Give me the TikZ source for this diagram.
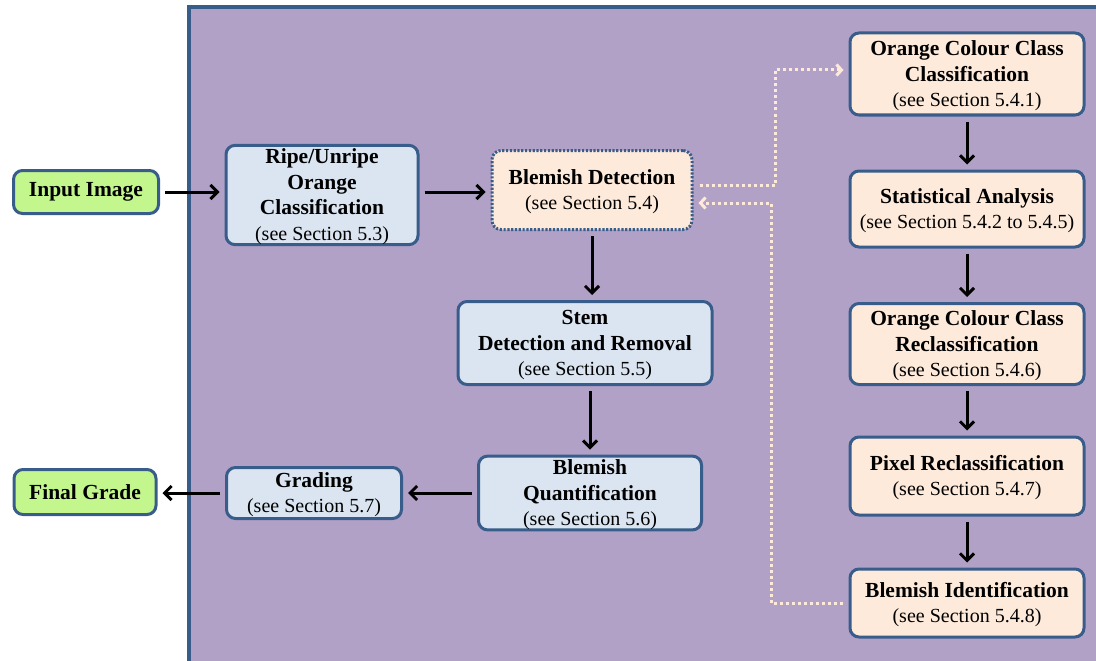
\documentclass[tikz,border=0pt]{standalone}
\usepackage{fontspec}
\setmainfont{Liberation Serif}
\usepackage{tikz}
\usetikzlibrary{calc}
\usetikzlibrary{arrows.meta}
\definecolor{panel}{HTML}{B2A1C7}
\definecolor{edge}{HTML}{385D8A}
\definecolor{lblue}{HTML}{DBE5F1}
\definecolor{peach}{HTML}{FDEADA}
\definecolor{lgreen}{HTML}{C4F68E}
\newcommand{\seesec} [1] {{\fontsize{20}{24}\selectfont\mdseries (see Section #1)}}
\newcommand{\topgap} {\rule{0pt}{18.5pt}}
\tikzset{G/.style={rounded corners=9pt,draw=edge,line width=3pt,fill=lgreen,align=center,inner xsep=1pt,inner ysep=0pt,font=\fontsize{21.5}{25.5}\selectfont\bfseries}}
\tikzset{B/.style={G,fill=lblue}}
\tikzset{P/.style={B,fill=peach}}
\tikzset{A/.style={line width=3pt,-{Straight Barb[length=7pt,width=14pt]},shorten <=5pt,shorten >=5pt}}
\tikzset{D/.style={draw=peach,line width=3pt,dash pattern=on 3pt off 3pt,-{Straight Barb[length=5pt,width=11pt]},shorten <=6pt,shorten >=5pt}}

\begin{document}
\begin{tikzpicture}[x=1pt,y=-1pt]
\useasboundingbox (0,0) rectangle (1096,661);

% background panel
\fill[panel] (189,7) rectangle (1096,661);
\draw[edge,line width=3.5pt] (189,661) -- (189,7) -- (1096,7);

% outside the panel
\node[G,minimum width=145,minimum height=43] (input) at (86,192) {Input Image};
\node[G,minimum width=142,minimum height=45] (final) at (85,492) {Final Grade};

% main chain
\node[B,minimum width=192,minimum height=98] (ripe) at (322,195) {\topgap Ripe/Unripe\\Orange\\Classification\\\seesec{5.3}};
\node[P,minimum width=200,minimum height=79,dash pattern=on 2.2pt off 1.6pt] (blemdet) at (592,190) {\topgap Blemish Detection\\\seesec{5.4}};
\node[B,minimum width=254,minimum height=83] (stem) at (585,343) {\topgap Stem\\Detection and Removal\\\seesec{5.5}};
\node[B,minimum width=223,minimum height=72] (blemq) at (590,493) {\topgap Blemish\\Quantification\\\seesec{5.6}};
\node[B,minimum width=175,minimum height=51] (grading) at (314,493) {\topgap Grading\\\seesec{5.7}};

% blemish detection steps
\node[P,minimum width=234,minimum height=82] (occ) at (967,74) {\topgap Orange Colour Class\\Classification\\\seesec{5.4.1}};
\node[P,minimum width=234,minimum height=76] (stat) at (967,209) {\topgap Statistical Analysis\\\seesec{5.4.2 to 5.4.5}};
\node[P,minimum width=234,minimum height=81] (occr) at (967,344) {\topgap Orange Colour Class\\Reclassification\\\seesec{5.4.6}};
\node[P,minimum width=234,minimum height=78] (pixre) at (967,476) {\topgap Pixel Reclassification\\\seesec{5.4.7}};
\node[P,minimum width=234,minimum height=68] (blemid) at (967,603) {\topgap Blemish Identification\\\seesec{5.4.8}};

\draw[A] (input.east) -- (input.east -| ripe.west);
\draw[A] ([yshift=3pt]ripe.east) -- ([yshift=3pt]ripe.east -| blemdet.west);
\draw[A] (blemdet.south) -- (blemdet.south |- stem.north);
\draw[A] (blemq.north |- stem.south) -- (blemq.north);
\draw[A] (blemq.west) -- (blemq.west -| grading.east);
\draw[A] (grading.west) -- (grading.west -| final.east);

\foreach \a/\b in {occ/stat, stat/occr, occr/pixre, pixre/blemid}
 {
 \draw[A] (\a) -- (\b);
 }

% dotted loop out and back
\coordinate (up) at (775,70);
\coordinate (dn) at (771,203);
\draw[D] ([yshift=5pt]blemdet.east) -| (up) -- (up -| occ.west);
\draw[D] (blemid.west) -| (dn) -- (dn -| blemdet.east);

\end{tikzpicture}
\end{document}
